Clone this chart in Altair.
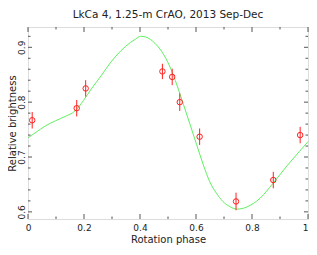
import altair as alt
import pandas as pd

# Observed points
phase = [0.015, 0.174, 0.206, 0.480, 0.515, 0.542, 0.613, 0.743, 0.876, 0.972]
bright = [0.767, 0.789, 0.825, 0.856, 0.846, 0.800, 0.737, 0.619, 0.658, 0.740]
err = [0.015, 0.015, 0.015, 0.014, 0.015, 0.016, 0.015, 0.016, 0.015, 0.015]

# Fitted curve
fit_phase = [0.000, 0.028, 0.063, 0.098, 0.133, 0.168, 0.198, 0.226, 0.261, 0.296,
             0.314, 0.349, 0.384, 0.402, 0.419, 0.454, 0.474, 0.509, 0.532, 0.555,
             0.579, 0.602, 0.626, 0.649, 0.673, 0.696, 0.719, 0.747, 0.782, 0.829,
             0.875, 0.922, 0.969, 1.000]
fit_bright = [0.735, 0.745, 0.757, 0.766, 0.774, 0.784, 0.803, 0.824, 0.848, 0.873,
              0.884, 0.902, 0.915, 0.920, 0.919, 0.907, 0.895, 0.862, 0.831, 0.796,
              0.759, 0.723, 0.686, 0.655, 0.634, 0.619, 0.610, 0.605, 0.609, 0.625,
              0.652, 0.682, 0.710, 0.728]

# Tick values
x_major = [0, 0.2, 0.4, 0.6, 0.8, 1.0]
x_minor = [0.1, 0.3, 0.5, 0.7, 0.9]
y_major = [0.6, 0.7, 0.8, 0.9]
y_minor = [0.62, 0.64, 0.66, 0.68, 0.72, 0.74, 0.76, 0.78, 0.82, 0.84, 0.86, 0.88, 0.92]

W, H = 280, 192
FONT = "DejaVu Sans"
TXT = "#222222"
FRAME = "#555555"
RED = "#ff2020"
GREEN = "#5ff05f"

obs = pd.DataFrame({"phase": phase, "bright": bright, "err": err})
obs["lo"] = obs["bright"] - obs["err"]
obs["hi"] = obs["bright"] + obs["err"]
fit = pd.DataFrame({"phase": fit_phase, "bright": fit_bright})

xs = alt.Scale(domain=[0, 1], nice=False, zero=False)
ys = alt.Scale(domain=[0.587, 0.937], nice=False, zero=False)

x_axis = alt.Axis(values=x_major, format="~g", ticks=False, domain=False, grid=False,
                  labelPadding=4, labelFlush=False,
                  labelAlign={"condition": {"test": "datum.value >= 1", "value": "right"},
                              "value": "center"},
                  labelFont=FONT, labelFontSize=9,
                  labelColor=TXT, title="Rotation phase", titleFont=FONT,
                  titleFontSize=10, titleFontWeight="normal", titleColor=TXT,
                  titlePadding=2)
y_axis = alt.Axis(values=y_major, format="~g", ticks=False, domain=False, grid=False,
                  labelPadding=4, labelFlush=False, labelAngle=270, labelAlign="center",
                  labelBaseline="alphabetic", labelFont=FONT, labelFontSize=9,
                  labelColor=TXT, title="Relative brightness", titleFont=FONT,
                  titleFontSize=10, titleFontWeight="normal", titleColor=TXT,
                  titleAngle=270, titleX=-15.5, titleY=H / 2, titleAlign="center",
                  titleBaseline="middle")

curve = alt.Chart(fit).mark_line(color=GREEN, strokeWidth=1, interpolate="monotone").encode(
    x=alt.X("phase:Q", scale=xs, axis=x_axis),
    y=alt.Y("bright:Q", scale=ys, axis=y_axis),
)
bars = alt.Chart(obs).mark_rule(color=RED, strokeWidth=1).encode(
    x=alt.X("phase:Q", scale=xs),
    y=alt.Y("lo:Q", scale=ys),
    y2="hi:Q",
)
pts = alt.Chart(obs).mark_point(shape="circle", filled=False, color=RED, size=30,
                                strokeWidth=1, opacity=1).encode(
    x=alt.X("phase:Q", scale=xs),
    y=alt.Y("bright:Q", scale=ys),
)


def xticks(vals, length):
    d = pd.DataFrame({"phase": vals})
    base = alt.Chart(d).mark_rule(color=FRAME, strokeWidth=1)
    bottom = base.encode(x=alt.X("phase:Q", scale=xs),
                         y=alt.value(H), y2=alt.value(H - length))
    top = base.encode(x=alt.X("phase:Q", scale=xs),
                      y=alt.value(0), y2=alt.value(length))
    return [bottom, top]


def yticks(vals, length):
    d = pd.DataFrame({"bright": vals})
    base = alt.Chart(d).mark_rule(color=FRAME, strokeWidth=1)
    left = base.encode(y=alt.Y("bright:Q", scale=ys),
                       x=alt.value(0), x2=alt.value(length))
    right = base.encode(y=alt.Y("bright:Q", scale=ys),
                        x=alt.value(W), x2=alt.value(W - length))
    return [left, right]


layers = [curve, bars, pts] + xticks(x_major, 5) + xticks(x_minor, 2.5) \
    + yticks(y_major, 4) + yticks(y_minor, 2.5)

chart = alt.layer(*layers).properties(
    width=W, height=H,
    title=alt.TitleParams("LkCa 4, 1.25-m CrAO, 2013 Sep-Dec", font=FONT, fontSize=10.5,
                          fontWeight="normal", color=TXT, anchor="middle", frame="group",
                          offset=6),
    autosize=alt.AutoSizeParams(type="none"),
    padding={"left": 20, "top": 19, "right": 1, "bottom": 28},
).configure_view(stroke=FRAME, strokeWidth=1).configure(background="white")

chart.save("out.html", embed_options={"renderer": "svg", "actions": False})
